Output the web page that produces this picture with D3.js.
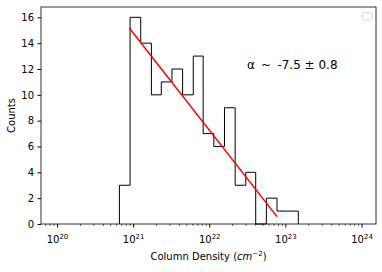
<!DOCTYPE html>
<html>
<head>
<meta charset="utf-8">
<script src="https://cdn.jsdelivr.net/npm/d3@7"></script>
<style>
  body { margin: 0; background: #fff; }
  text { font-family: "DejaVu Sans", sans-serif; }
</style>
</head>
<body>
<script>
// histogram of column density, log10 bin edges
const binEdgesLog = [20.82, 20.96, 21.10, 21.24, 21.37, 21.51, 21.65, 21.79, 21.92,
    22.06, 22.20, 22.34, 22.48, 22.61, 22.75, 22.89, 23.03, 23.17];
const counts = [3, 16, 14, 10, 11, 12, 10, 13, 7, 6, 9, 3, 4, 0, 2, 1, 1];

// fitted power law line (ends)
const fitXLog = [20.95, 22.89];
const fitY = [15.17, 0.57];

const yTicks = [0, 2, 4, 6, 8, 10, 12, 14, 16];
const xTicks = [20, 21, 22, 23, 24];
const fitLabel = "α \u2009~\u2009 -7.5 ± 0.8";

const W = 382, H = 272;
const margin = {top: 7, right: 6, bottom: 48, left: 41};

const svg = d3.select("body").append("svg")
    .attr("width", W).attr("height", H);

const x = d3.scaleLog()
    .domain([Math.pow(10, 19.79), Math.pow(10, 24.19)])
    .range([margin.left, W - margin.right]);
const y = d3.scaleLinear()
    .domain([0, 16.8])
    .range([H - margin.bottom, margin.top]);

// step outline of the histogram
const pts = [[binEdgesLog[0], 0]];
counts.forEach((c, i) => {
    pts.push([binEdgesLog[i], c]);
    pts.push([binEdgesLog[i + 1], c]);
});
pts.push([binEdgesLog[binEdgesLog.length - 1], 0]);

svg.append("path")
    .attr("d", d3.line().x(d => x(Math.pow(10, d[0]))).y(d => y(d[1]))(pts))
    .attr("fill", "none")
    .attr("stroke", "#000")
    .attr("stroke-width", 1);

// red fit line
svg.append("line")
    .attr("x1", x(Math.pow(10, fitXLog[0]))).attr("y1", y(fitY[0]))
    .attr("x2", x(Math.pow(10, fitXLog[1]))).attr("y2", y(fitY[1]))
    .attr("stroke", "red")
    .attr("stroke-width", 1.5);

// frame
svg.append("rect")
    .attr("x", margin.left).attr("y", margin.top)
    .attr("width", W - margin.left - margin.right)
    .attr("height", H - margin.top - margin.bottom)
    .attr("fill", "none")
    .attr("stroke", "#000")
    .attr("stroke-width", 0.8);

// y axis
const yAxis = svg.append("g")
    .attr("transform", `translate(${margin.left},0)`)
    .call(d3.axisLeft(y).tickValues(yTicks).tickSize(3.5).tickPadding(3.5));
yAxis.select(".domain").remove();
yAxis.selectAll("text").style("font-size", "10px").attr("fill", "#000");

// x axis, major + minor ticks
const minor = [];
for (let e = 19; e <= 24; e++) {
    for (let m = 2; m <= 9; m++) {
        const v = m * Math.pow(10, e);
        if (v > x.domain()[0] && v < x.domain()[1]) minor.push(v);
    }
}
const xAxisMinor = svg.append("g")
    .attr("transform", `translate(0,${H - margin.bottom})`)
    .call(d3.axisBottom(x).tickValues(minor).tickSize(2).tickFormat(""));
xAxisMinor.select(".domain").remove();
xAxisMinor.selectAll("line").attr("stroke-width", 0.6);

const xAxis = svg.append("g")
    .attr("transform", `translate(0,${H - margin.bottom})`)
    .call(d3.axisBottom(x).tickValues(xTicks.map(e => Math.pow(10, e)))
        .tickSize(3.5).tickFormat(""));
xAxis.select(".domain").remove();

xAxis.selectAll(".tick").each(function(d, i) {
    const t = d3.select(this).append("text")
        .attr("y", 19)
        .attr("text-anchor", "middle")
        .attr("fill", "#000")
        .style("font-size", "10px");
    t.append("tspan").text("10");
    t.append("tspan").attr("dy", -4).style("font-size", "7px").text(xTicks[i]);
});

// axis titles
const xl = svg.append("text")
    .attr("x", (margin.left + W - margin.right) / 2)
    .attr("y", 260)
    .attr("text-anchor", "middle")
    .style("font-size", "10px");
xl.append("tspan").text("Column Density (");
xl.append("tspan").style("font-style", "italic").text("cm");
xl.append("tspan").attr("dy", -4).style("font-size", "7px").text("−2");
xl.append("tspan").attr("dy", 4).text(")");

svg.append("text")
    .attr("transform", `translate(15,${(margin.top + H - margin.bottom) / 2}) rotate(-90)`)
    .attr("text-anchor", "middle")
    .style("font-size", "10px")
    .text("Counts");

// annotation
svg.append("text")
    .attr("x", 247).attr("y", 69)
    .style("font-size", "12px")
    .style("white-space", "pre")
    .text(fitLabel);

// empty legend box
svg.append("rect")
    .attr("x", 362.5).attr("y", 12.5)
    .attr("width", 9.5).attr("height", 7.5)
    .attr("rx", 1.5)
    .attr("fill", "#fff")
    .attr("stroke", "#d0d0d0")
    .attr("stroke-width", 0.8);
</script>
</body>
</html>
